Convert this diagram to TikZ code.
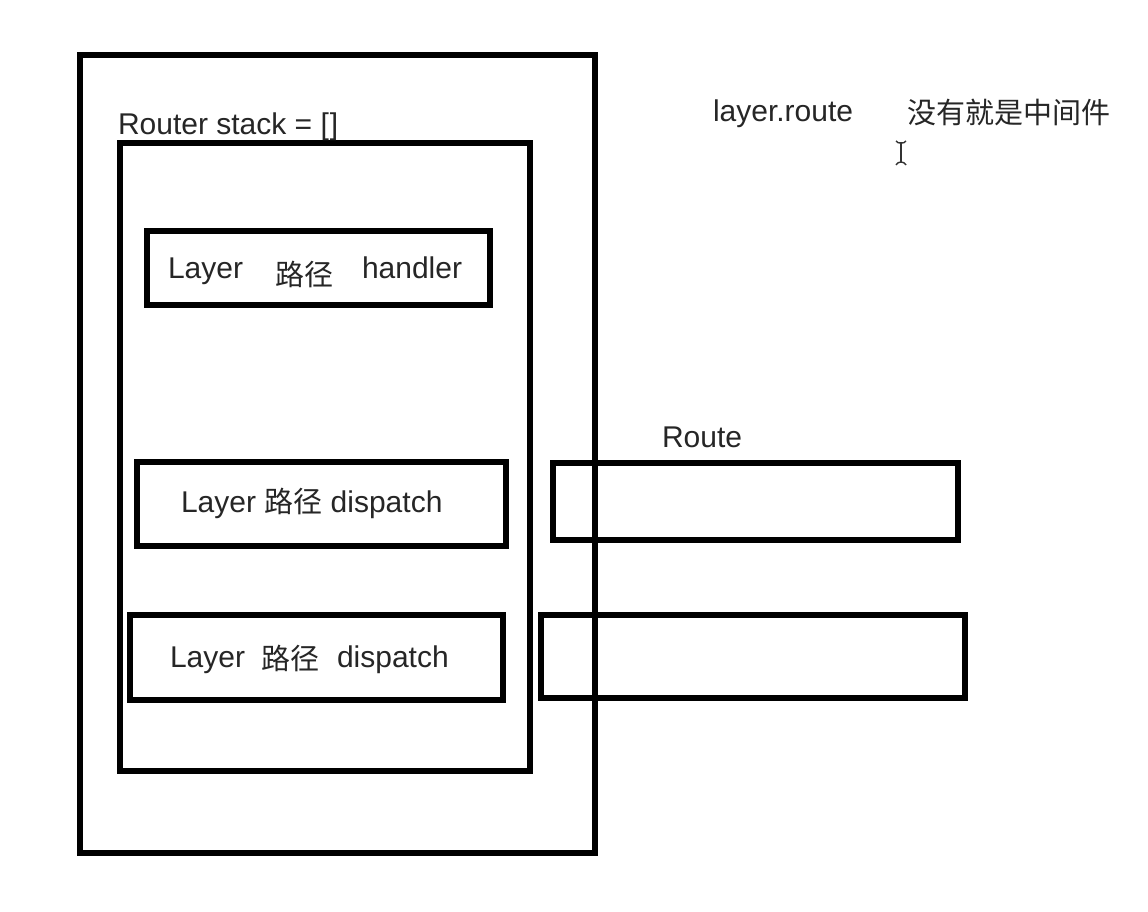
\documentclass[tikz,border=0pt]{standalone}
\usepackage{fontspec}
\setmainfont{Liberation Sans}
\newfontfamily\cjk{Noto Sans CJK SC}
\begin{document}
\begin{tikzpicture}[x=1pt,y=-1pt,
  frame/.style={draw=black,line width=6pt,line join=miter},
  lbl/.style={anchor=base west,inner sep=0pt,outer sep=0pt,text=black!85,font=\fontsize{30}{36}\selectfont},
  zh/.style={lbl,font=\fontsize{29}{35}\selectfont\cjk}]
\useasboundingbox (0,0) rectangle (1148,912);
\fill[white] (0,0) rectangle (1148,912);
% boxes
\draw[frame] (80,55) rectangle (595,853);
\draw[frame] (120,143) rectangle (530,771);
\draw[frame] (147,231) rectangle (490,305);
\draw[frame] (137,462) rectangle (506,546);
\draw[frame] (130,615) rectangle (503,700);
\draw[frame] (553,463) rectangle (958,540);
\draw[frame] (541,615) rectangle (965,698);
% labels
\node[lbl] (stack) at (118,135) {Router stack = [\kern1pt]};
\node[lbl] (lr) at (713,122) {layer.route};
\node[zh] (mw) at (907,124) {没有就是中间件};
\node[lbl] (route) at (662,447) {Route};
\node[lbl] (l1) at (168,278) {Layer};
\node[zh] (p1) at (275,285) {路径};
\node[lbl] (h1) at (362,278) {handler};
\node[lbl] (l2) at (181,512) {Layer {\fontsize{29}{35}\selectfont\cjk 路径} dispatch};
\node[lbl] (l3) at (170,667) {Layer};
\node[zh] (p3) at (261,669) {路径};
\node[lbl] (d3) at (337,667) {dispatch};
% text cursor
\draw[line width=1.6pt,black!80] (901,142) -- (901,163);
\draw[line width=1.4pt,black!80] (896,141) to[bend right=30] (901,143) to[bend right=30] (906,141);
\draw[line width=1.4pt,black!80] (896,165) to[bend left=30] (901,162) to[bend left=30] (906,165);
\end{tikzpicture}
\end{document}
